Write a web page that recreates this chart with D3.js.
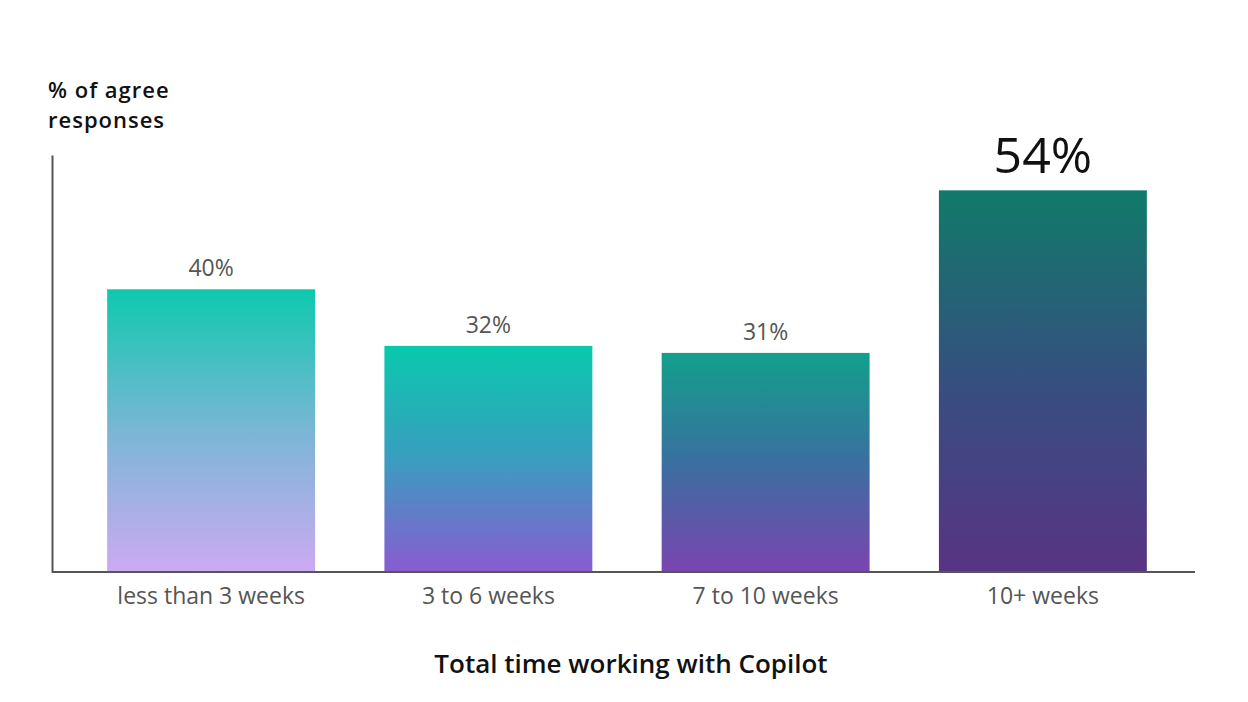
<!DOCTYPE html>
<html>
<head>
<meta charset="utf-8">
<script src="https://cdn.jsdelivr.net/npm/d3@7"></script>
<style>
  html, body { margin: 0; padding: 0; background: #fff; }
  svg { display: block; }
</style>
</head>
<body>
<script>
const categories = ["less than 3 weeks", "3 to 6 weeks", "7 to 10 weeks", "10+ weeks"];
const values = [40, 32, 31, 54];
const valueLabels = ["40%", "32%", "31%", "54%"];
const gradientTop = ["#0ec9ae", "#08c9ad", "#12a08b", "#107a69"];
const gradientMid = ["#7ab6d6", "#3a9dbf", "#3a6fa0", "#364f80"];
const gradientBottom = ["#ccaaf2", "#8a5bd1", "#7a45b0", "#583384"];
const yTitle = ["% of agree", "responses"];
const xTitle = "Total time working with Copilot";

const W = 1248, H = 702;
const svg = d3.select("body").append("svg").attr("width", W).attr("height", H);
const font = "'Open Sans', 'Noto Sans', sans-serif";

const x = d3.scaleBand().domain(categories).range([72.5, 1181.5]).paddingInner(0.25).paddingOuter(0.125);
const y = d3.scaleLinear().domain([0, 59]).range([572, 155]);

const defs = svg.append("defs");
categories.forEach((c, i) => {
  const g = defs.append("linearGradient").attr("id", "g" + i)
    .attr("x1", 0).attr("y1", 0).attr("x2", 0).attr("y2", 1);
  g.append("stop").attr("offset", "0%").attr("stop-color", gradientTop[i]);
  g.append("stop").attr("offset", "50%").attr("stop-color", gradientMid[i]);
  g.append("stop").attr("offset", "100%").attr("stop-color", gradientBottom[i]);
});

svg.selectAll("rect.bar").data(values).join("rect")
  .attr("class", "bar")
  .attr("x", (d, i) => x(categories[i]))
  .attr("width", x.bandwidth())
  .attr("y", d => y(d))
  .attr("height", d => y(0) - y(d))
  .attr("fill", (d, i) => `url(#g${i})`);

// value labels
svg.selectAll("text.val").data(values).join("text")
  .attr("class", "val")
  .attr("x", (d, i) => x(categories[i]) + x.bandwidth() / 2)
  .attr("y", (d, i) => i === 3 ? y(d) - 17 : y(d) - 13)
  .attr("text-anchor", "middle")
  .attr("font-family", font)
  .attr("font-size", (d, i) => i === 3 ? 50 : 23)
  .attr("fill", (d, i) => i === 3 ? "#111" : "#555")
  .text((d, i) => valueLabels[i]);

// axes
const xAxis = svg.append("g").attr("transform", `translate(0,${y(0)})`)
  .call(d3.axisBottom(x).tickSize(0).tickPadding(16));
xAxis.select(".domain").attr("d", "M52,0H1195").attr("stroke", "#555").attr("stroke-width", 2);
xAxis.selectAll("text").attr("font-family", font).attr("font-size", 23).attr("fill", "#555").attr("dy", "0.71em");

const yAxis = svg.append("g").attr("transform", "translate(52,0)")
  .call(d3.axisLeft(y).tickValues([]).tickSize(0));
yAxis.select(".domain").attr("stroke", "#555").attr("stroke-width", 2);

// titles
svg.selectAll("text.ytitle").data(yTitle).join("text")
  .attr("class", "ytitle")
  .attr("x", 48).attr("y", (d, i) => 98 + i * 30)
  .attr("font-family", font).attr("font-size", 22).attr("letter-spacing", 1)
  .attr("font-weight", 600).attr("fill", "#111")
  .text(d => d);

svg.append("text")
  .attr("x", 631).attr("y", 673)
  .attr("text-anchor", "middle")
  .attr("font-family", font).attr("font-size", 26).attr("font-weight", 600).attr("fill", "#111")
  .text(xTitle);
</script>
</body>
</html>
